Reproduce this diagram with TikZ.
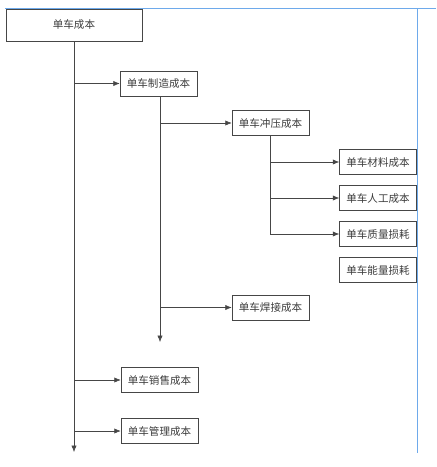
\documentclass[tikz,border=0pt]{standalone}
\usepackage{fontspec}
\usepackage{tikz}
\usetikzlibrary{arrows.meta,positioning}
\newfontfamily\cjk{Noto Sans CJK SC}
\definecolor{LineGray}{RGB}{70, 70, 70}
\definecolor{TextGray}{RGB}{60, 60, 60}
\definecolor{EdgeBlue}{RGB}{110, 170, 235}

\begin{document}
\begin{tikzpicture}[
    x=0.03cm, y=-0.03cm,
    box/.style={rectangle, draw=LineGray, line width=0.5pt, fill=white, minimum width=2.31cm, minimum height=0.75cm, inner sep=0pt, align=center, font=\cjk\fontsize{9}{10}\selectfont, text=TextGray},
    rootbox/.style={box, minimum width=4.08cm, minimum height=0.96cm},
    arrow/.style={-{Latex[length=5.5pt,width=4.5pt]}, LineGray, line width=0.5pt},
    link/.style={LineGray, line width=0.5pt}
]
\useasboundingbox (0,0) rectangle (436,467);

% Root
\node[rootbox] (cost) at (74,25) {单车成本};

% Level 1
\node[box] (make) at (158.5,83.5) {单车制造成本};
\node[box] (sale) at (159.5,380) {单车销售成本};
\node[box] (admin) at (159.5,431) {单车管理成本};

% Level 2
\node[box] (press) at (270.5,123) {单车冲压成本};
\node[box] (weld) at (270.5,307.5) {单车焊接成本};

% Level 3
\node[box] (material) at (378,162) {单车材料成本};
\node[box] (labour) at (378,198) {单车人工成本};
\node[box] (quality) at (378,234) {单车质量损耗};
\node[box] (energy) at (378,270) {单车能量损耗};

% Open ends
\coordinate (costend) at (74,452);
\coordinate (makeend) at (160,342);
\coordinate (pressend) at (270,234);

% Trunk lines
\draw[arrow] (cost.south) -- (costend);
\draw[arrow] (make.south -| makeend) -- (makeend);
\draw[link] (press.south -| pressend) -- (pressend);

% Branches
\draw[arrow] (cost.south |- make.west) -- (make.west);
\draw[arrow] (cost.south |- sale.west) -- (sale.west);
\draw[arrow] (cost.south |- admin.west) -- (admin.west);
\draw[arrow] (makeend |- press.west) -- (press.west);
\draw[arrow] (makeend |- weld.west) -- (weld.west);
\draw[arrow] (pressend |- material.west) -- (material.west);
\draw[arrow] (pressend |- labour.west) -- (labour.west);
\draw[arrow] (pressend |- quality.west) -- (quality.west);

% Screen edges
\draw[EdgeBlue, line width=0.8pt] (5,8) -- (436,8);
\draw[EdgeBlue, line width=0.8pt] (417,8) -- (417,453);

\end{tikzpicture}
\end{document}
